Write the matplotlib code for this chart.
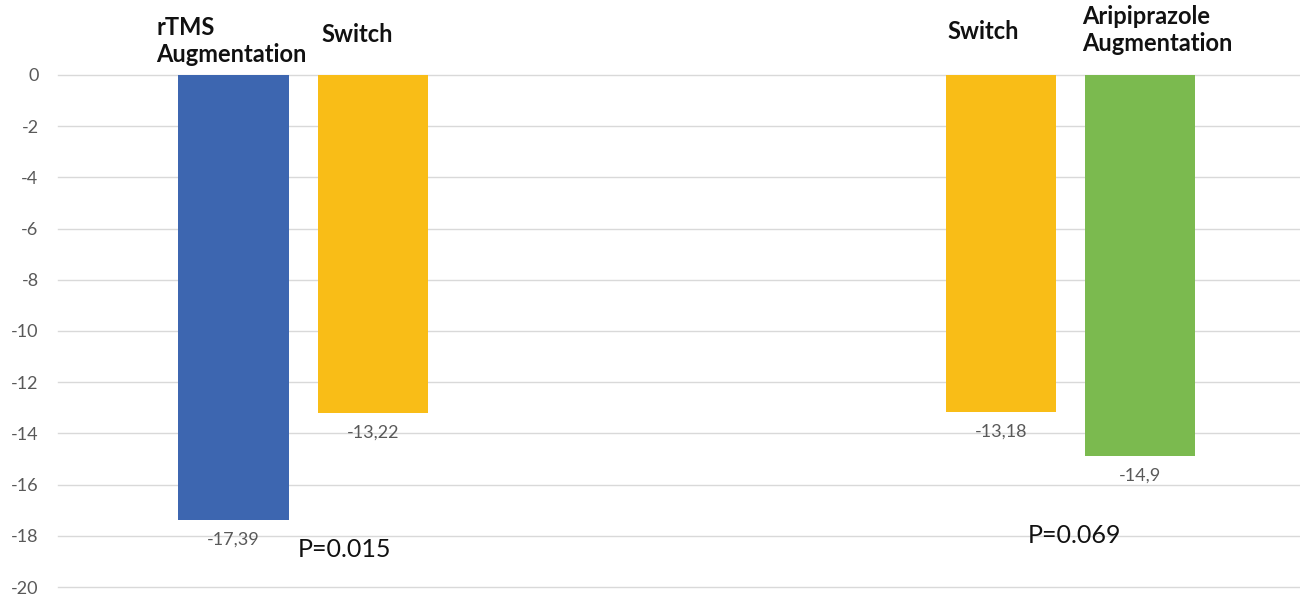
import matplotlib.pyplot as plt

# change in depression score per arm, two trials side by side
arms = ["rTMS\nAugmentation", "Switch", "Switch", "Aripiprazole\nAugmentation"]
changes = [-17.39, -13.22, -13.18, -14.9]
colors = ["#3d66b0", "#f9bd17", "#f9bd17", "#7bba4f"]
trial_of_arm = [0, 0, 1, 1]
p_values = ["P=0.015", "P=0.069"]
y_ticks = list(range(0, -21, -2))

plt.rcParams["font.family"] = ["Lato", "DejaVu Sans"]

fig = plt.figure(figsize=(13, 5.95), dpi=100)
ax = fig.add_axes([0.0446, 0.0134, 0.9554, 0.8606])

# bars within a trial sit one unit apart, trials 4.5 units apart
group_gap = 3.5
xs = [i + trial_of_arm[i] * group_gap for i in range(len(arms))]

ax.bar(xs, changes, width=0.79, color=colors, zorder=2)

# hand-placed arm titles above the zero line (offsets in points)
title_offsets = [(-1.5, 24.5), (-11.5, 29), (-13, 31), (12, 32.5)]

for x, v, name, off in zip(xs, changes, arms, title_offsets):
    ax.annotate(
        f"{v:g}".replace(".", ","),
        xy=(x, v),
        xytext=(0, -8),
        textcoords="offset points",
        ha="center",
        va="top",
        fontsize=13,
        color="#595959",
    )
    ax.annotate(
        name,
        xy=(x, 0),
        xytext=off,
        textcoords="offset points",
        ha="center",
        va="center",
        multialignment="left",
        fontsize=17,
        fontweight="bold",
        color="#111111",
        linespacing=1.2,
        annotation_clip=False,
    )

# p-value notes beneath each trial
ax.text(xs[1] - 0.54, -18.55, p_values[0], ha="left", va="center",
        fontsize=18, color="#111111")
ax.text(xs[2] + 0.19, -17.97, p_values[1], ha="left", va="center",
        fontsize=18, color="#111111")

ax.set_xlim(-1.258, 7.645)
ax.set_ylim(-20, 0)
ax.set_yticks(y_ticks)
ax.set_yticklabels([str(t) for t in y_ticks])
ax.set_xticks([])
ax.tick_params(axis="y", length=0, pad=14, labelsize=13, labelcolor="#595959")
ax.grid(axis="y", color="#d9d9d9", linewidth=1, zorder=0)
for gl in ax.get_ygridlines():
    gl.set_clip_on(False)
for spine in ax.spines.values():
    spine.set_visible(False)

fig.savefig("out.png", dpi=100)
